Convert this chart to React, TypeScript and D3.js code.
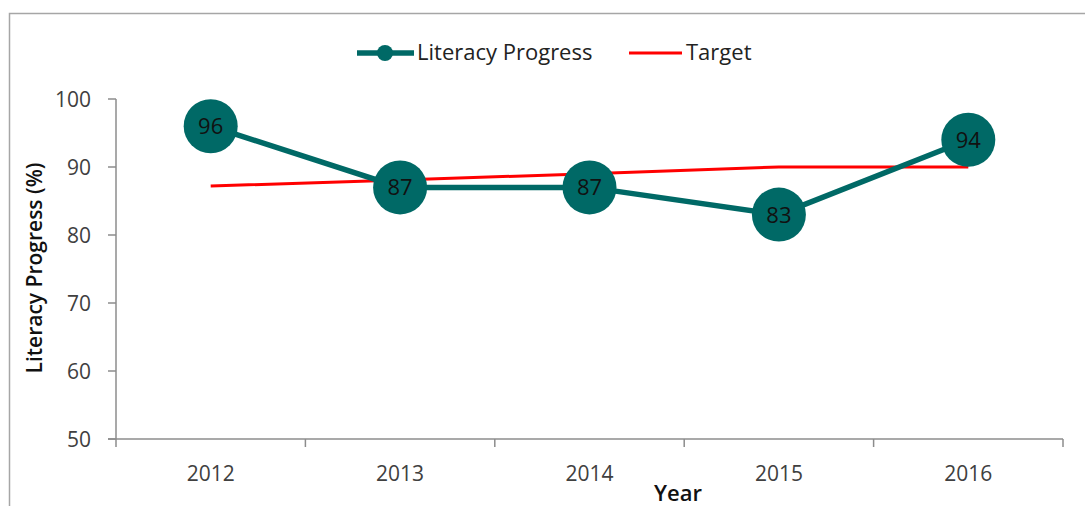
import React from 'react';
import * as d3 from 'd3';

const years = ['2012', '2013', '2014', '2015', '2016'];
const literacy = [96, 87, 87, 83, 94];
const target = [87.2, 88.1, 89, 90, 90];
const yTicks = [50, 60, 70, 80, 90, 100];

const W = 1085;
const H = 506;
const FONT = '"Open Sans", "Noto Sans", sans-serif';

export default function App() {
  // plot area
  const x0 = 116, x1 = 1063;
  const yTop = 99, yBot = 439;

  const x = d3.scaleBand().domain(years).range([x0, x1]);
  const y = d3.scaleLinear().domain([50, 100]).range([yBot, yTop]);
  const cx = (d: string) => (x(d) as number) + x.bandwidth() / 2;

  const lineGen = d3.line<number>()
    .x((_, i) => cx(years[i]))
    .y(d => y(d));

  const axisColor = '#8c8c8c';
  const teal = '#006966';

  return (
    <svg width={W} height={H} style={{ position: 'absolute', left: 0, top: 0, background: '#fff' }}>
      {/* chart frame */}
      <rect x={9.5} y={13.5} width={1090} height={510} fill="none" stroke="#a6a6a6" strokeWidth={1.5} />

      {/* y axis */}
      <line x1={x0} x2={x0} y1={yTop} y2={yBot} stroke={axisColor} strokeWidth={1.5} />
      {yTicks.map(t => (
        <g key={t}>
          <line x1={x0 - 8} x2={x0} y1={y(t)} y2={y(t)} stroke={axisColor} strokeWidth={1.5} />
          <text x={x0 - 25} y={y(t)} dy="0.36em" textAnchor="end" fontFamily={FONT} fontSize={21} fill="#404040">{t}</text>
        </g>
      ))}

      {/* x axis */}
      <line x1={x0 - 8} x2={x1} y1={yBot} y2={yBot} stroke={axisColor} strokeWidth={1.5} />
      {[...years.map(d => x(d) as number), x1].map((p, i) => (
        <line key={i} x1={p} x2={p} y1={yBot} y2={yBot + 8} stroke={axisColor} strokeWidth={1.5} />
      ))}
      {years.map(d => (
        <text key={d} x={cx(d)} y={481} textAnchor="middle" fontFamily={FONT} fontSize={21} fill="#404040">{d}</text>
      ))}

      {/* axis titles */}
      <text x={678} y={501} textAnchor="middle" fontFamily={FONT} fontSize={22} fontWeight={600} fill="#111">Year</text>
      <text transform={`translate(42,${(yTop + yBot) / 2 - 1}) rotate(-90)`} textAnchor="middle" fontFamily={FONT} fontSize={21} fontWeight={600} fill="#111">Literacy Progress (%)</text>

      {/* target line */}
      <path d={lineGen(target) || ''} fill="none" stroke="#ff0000" strokeWidth={3} />

      {/* literacy line */}
      <path d={lineGen(literacy) || ''} fill="none" stroke={teal} strokeWidth={5.5} />
      {literacy.map((v, i) => (
        <g key={i}>
          <circle cx={cx(years[i])} cy={y(v)} r={27} fill={teal} />
          <text x={cx(years[i])} y={y(v)} dy="0.36em" textAnchor="middle" fontFamily={FONT} fontSize={22} fill="#111">{v}</text>
        </g>
      ))}

      {/* legend */}
      <line x1={357} x2={414} y1={53} y2={53} stroke={teal} strokeWidth={5.5} />
      <circle cx={385} cy={53} r={8} fill={teal} />
      <text x={417} y={52} dy="0.36em" fontFamily={FONT} fontSize={22} fill="#222">Literacy Progress</text>
      <line x1={629} x2={682} y1={53} y2={53} stroke="#ff0000" strokeWidth={3} />
      <text x={686} y={52} dy="0.36em" fontFamily={FONT} fontSize={22} fill="#222">Target</text>
    </svg>
  );
}
